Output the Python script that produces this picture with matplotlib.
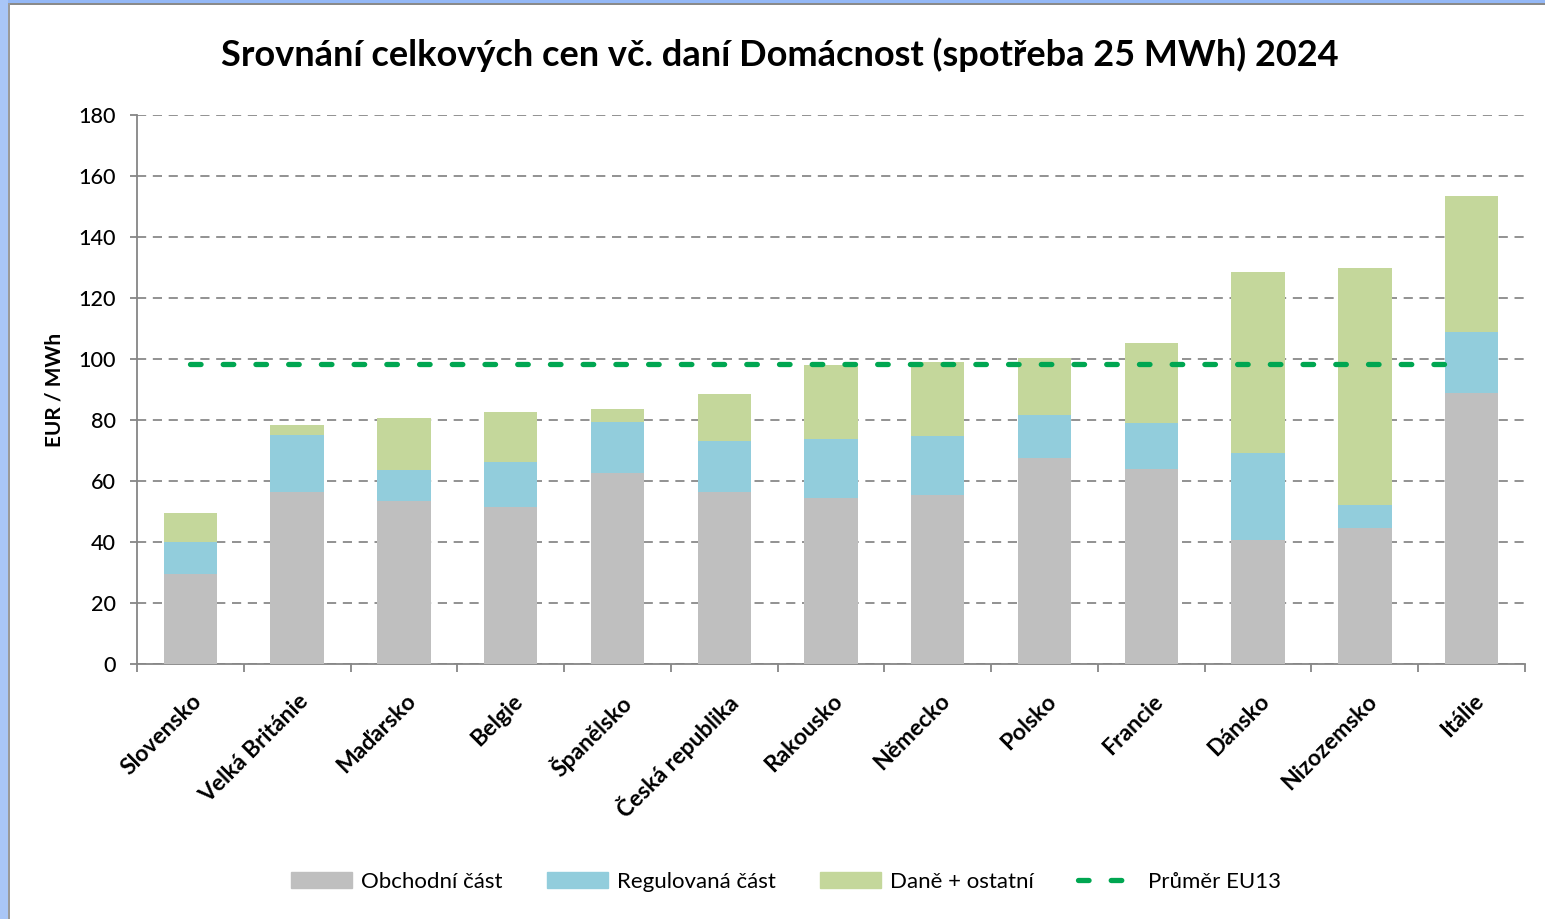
import matplotlib
matplotlib.use("Agg")
import matplotlib.pyplot as plt
import numpy as np
from matplotlib.patches import Rectangle, Patch
from matplotlib.lines import Line2D

plt.rcParams['font.family'] = ['Lato', 'DejaVu Sans']

countries = ["Slovensko", "Velká Británie", "Maďarsko", "Belgie", "Španělsko",
             "Česká republika", "Rakousko", "Německo", "Polsko", "Francie",
             "Dánsko", "Nizozemsko", "Itálie"]
obchodni = [29.5, 56.5, 53.3, 51.5, 62.5, 56.5, 54.5, 55.3, 67.5, 63.8, 40.7, 44.5, 89.0]
regulovana = [10.5, 18.5, 10.2, 14.7, 17.0, 16.5, 19.3, 19.3, 14.2, 15.2, 28.5, 7.5, 19.8]
dane = [9.5, 3.2, 17.3, 16.5, 4.0, 15.5, 24.3, 24.3, 18.7, 26.3, 59.3, 77.7, 44.5]
prumer_eu13 = 98.3

series_names = ["Obchodní část", "Regulovaná část", "Daně + ostatní", "Průměr EU13"]
title = "Srovnání celkových cen vč. daní Domácnost (spotřeba 25 MWh) 2024"
ylabel = "EUR / MWh"
yticks = [0, 20, 40, 60, 80, 100, 120, 140, 160, 180]

c_gray = "#bfbfbf"
c_blue = "#92cddc"
c_green = "#c4d79b"
c_avg = "#00a651"
c_axis = "#868686"

fig = plt.figure(figsize=(15.45, 9.19), dpi=100)
fig.patch.set_facecolor("white")

# frame decoration (blue border on top/left)
fig.patches.append(Rectangle((0, 1 - 3 / 919), 1, 3 / 919, transform=fig.transFigure,
                             facecolor="#94b8f6", edgecolor="none", zorder=0))
fig.patches.append(Rectangle((0, 1 - 5 / 919), 1, 2 / 919, transform=fig.transFigure,
                             facecolor="#8a8a8a", edgecolor="none", zorder=0))
fig.patches.append(Rectangle((0, 0), 8 / 1545, 1, transform=fig.transFigure,
                             facecolor="#a9c6f7", edgecolor="none", zorder=0))
fig.patches.append(Rectangle((8 / 1545, 0), 2 / 1545, 1 - 3 / 919, transform=fig.transFigure,
                             facecolor="#9a9a9a", edgecolor="none", zorder=0))

ax = fig.add_axes([137 / 1545, 1 - 664 / 919, (1525 - 137) / 1545, (664 - 115) / 919])
x = np.arange(len(countries))
w = 0.5
ob = np.array(obchodni)
rg = np.array(regulovana)
dn = np.array(dane)
ax.bar(x, ob, w, color=c_gray, zorder=3)
ax.bar(x, rg, w, bottom=ob, color=c_blue, zorder=3)
ax.bar(x, dn, w, bottom=ob + rg, color=c_green, zorder=3)
ax.plot([x[0], x[-1] - 0.05], [prumer_eu13, prumer_eu13], color=c_avg, lw=3.8,
        dashes=(2.0, 4.2), dash_capstyle="round", zorder=4)

ax.set_xlim(-0.5, len(countries) - 0.5)
ax.set_ylim(0, 180)
ax.set_yticks(yticks)
ax.set_yticklabels([str(v) for v in yticks], fontsize=15.5, fontweight="medium")
ax.yaxis.grid(True, color="#7f7f7f", lw=1.2, linestyle=(0, (5.5, 4)), zorder=0)
ax.set_axisbelow(True)
for s in ["top", "right"]:
    ax.spines[s].set_visible(False)
for s in ["left", "bottom"]:
    ax.spines[s].set_color(c_axis)
    ax.spines[s].set_linewidth(1.3)
ax.tick_params(axis="y", length=5, color=c_axis, width=1.3, pad=10)
ax.set_xticks(x)
ax.set_xticklabels(countries, rotation=45, ha="right", va="top",
                   rotation_mode="anchor", fontsize=16.5, fontweight="bold")
ax.tick_params(axis="x", length=0, pad=19)
ax.set_xticks(np.arange(-0.5, len(countries), 1.0), minor=True)
ax.tick_params(axis="x", which="minor", length=6, color=c_axis, width=1.3)
for lbl in ax.get_xticklabels():
    lbl.set_transform(lbl.get_transform() + matplotlib.transforms.ScaledTranslation(1 / 100, 0, fig.dpi_scale_trans))

ax.set_ylabel(ylabel, fontsize=15, fontweight="bold")
ax.yaxis.set_label_coords(-0.052, 0.5)

fig.text(0.505, 1 - 55 / 919, title, ha="center", va="center",
         fontsize=26, fontweight="bold")

handles = [Patch(color=c_gray), Patch(color=c_blue), Patch(color=c_green),
           Line2D([], [], color=c_avg, lw=3.8, dashes=(2.0, 4.2), dash_capstyle="round")]
fig.legend(handles, series_names, loc="center", bbox_to_anchor=(786 / 1545, 1 - 882 / 919),
           ncol=4, frameon=False, fontsize=16, handlelength=2.75, handleheight=0.7,
           handletextpad=0.4, columnspacing=2.0)

fig.savefig("out.png", dpi=100, facecolor="white")
